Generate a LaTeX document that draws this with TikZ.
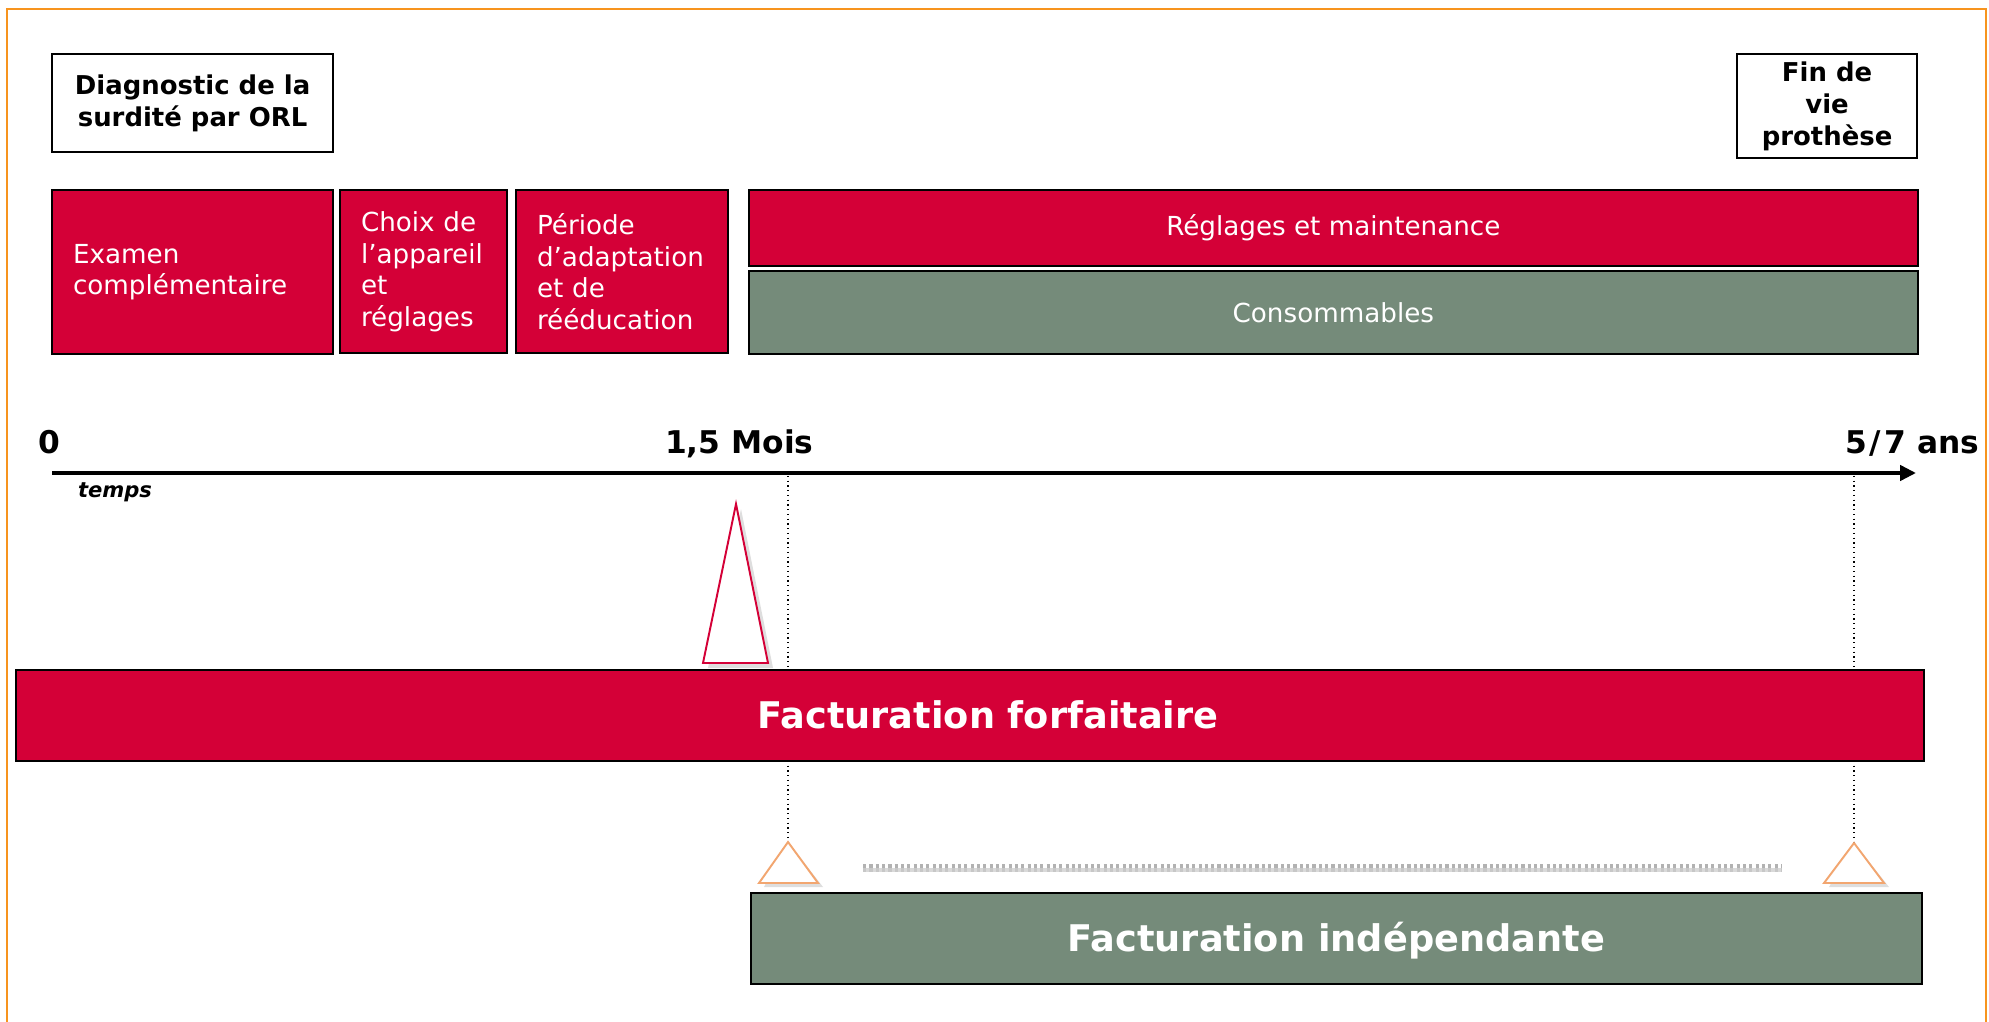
\documentclass[tikz,border=0pt]{standalone}
\usepackage{fontspec}
\setmainfont{DejaVu Sans}
\usetikzlibrary{arrows.meta}
\definecolor{rouge}{RGB}{212,0,55}
\definecolor{vert}{RGB}{117,139,122}
\definecolor{orangecadre}{RGB}{247,148,30}
\definecolor{orangetri}{RGB}{242,166,112}
\begin{document}
\begin{tikzpicture}[
    x=0.01cm, y=-0.01cm,
    every node/.style={inner sep=0pt, outer sep=0pt},
    phase/.style={rectangle, draw=black, line width=0.6pt, fill=rouge, text=white, anchor=north west, align=left, inner xsep=0.21cm, font=\fontsize{7.45pt}{8.96pt}\selectfont},
    bande/.style={rectangle, draw=black, line width=0.6pt, text=white, anchor=north west, font=\fontsize{7.45pt}{8.96pt}\selectfont},
    jalon/.style={rectangle, draw=black, line width=0.6pt, fill=white, anchor=north west, align=center, font=\bfseries\fontsize{7.37pt}{9.1pt}\selectfont},
    facture/.style={rectangle, draw=black, line width=0.6pt, text=white, anchor=north west, text height=7.6pt, text depth=0pt, font=\bfseries\fontsize{10.44pt}{12pt}\selectfont},
    repere/.style={anchor=base west, font=\bfseries\fontsize{8.9pt}{10pt}\selectfont},
    pointille/.style={densely dotted, line width=0.35pt},
    ombre/.style={fill=black!13, draw=none},
    ]
    \useasboundingbox (0,0) rectangle (1989,1022);
    % cadre orange
    \draw[orangecadre, line width=0.75pt] (7,1022) -- (7,9) -- (1986,9) -- (1986,1022);

    % jalons du haut
    \node[jalon, minimum width=2.81cm, minimum height=0.98cm] (diag) at (52,54) {Diagnostic de la\\surdité par ORL};
    \node[jalon, minimum width=1.80cm, minimum height=1.04cm] (fin) at (1737,54) {Fin de\\vie\\prothèse};

    % phases
    \node[phase, text width=2.39cm, minimum height=1.64cm] (examen) at (52,190) {Examen\\complémentaire};
    \node[phase, text width=1.25cm, minimum height=1.63cm] (choix) at (340,190) {Choix de\\l’appareil\\et\\réglages};
    \node[phase, text width=1.70cm, minimum height=1.63cm] (periode) at (516,190) {Période\\d’adaptation\\et de\\rééducation};
    \node[bande, fill=rouge, minimum width=11.68cm, minimum height=0.76cm] (reglages) at (749,190) {Réglages et maintenance};
    \node[bande, fill=vert, minimum width=11.68cm, minimum height=0.83cm] (conso) at (749,271) {Consommables};

    % axe du temps
    \coordinate (t0) at (52,473);
    \coordinate (tfin) at (1916,473);
    \draw[line width=1.14pt, -{Triangle[length=4.55pt, width=4.3pt]}] (t0) -- (tfin);
    \node[repere] (zero) at (38,454) {0};
    \node[repere] (mois) at (665,454) {1,5 Mois};
    \node[repere] (ans) at (1845,454) {5\kern0.9pt/\kern0.9pt7 ans};
    \node[anchor=base west, font=\bfseries\itshape\fontsize{6pt}{7pt}\selectfont] (temps) at (78,498) {temps};

    % pointilles
    \coordinate (m15) at (788,476);
    \coordinate (a15) at (788,842);
    \coordinate (m57) at (1854,476);
    \coordinate (a57) at (1854,843);
    \draw[pointille] (m15) -- (a15);
    \draw[pointille] (m57) -- (a57);

    % facturation forfaitaire
    \node[facture, fill=rouge, minimum width=19.07cm, minimum height=0.91cm] (forfait) at (16,670) {\hspace*{0.36cm}Facturation forfaitaire};

    % triangles
    \fill[ombre, shift={(5,5)}] (736,504) -- (768,663) -- (703,663) -- cycle;
    \draw[rouge, fill=white, line width=0.55pt] (736,504) -- (768,663) -- (703,663) -- cycle;
    \fill[ombre, shift={(5,4)}] (a15) -- (818,883) -- (759,883) -- cycle;
    \draw[orangetri, fill=white, line width=0.55pt] (a15) -- (818,883) -- (759,883) -- cycle;
    \fill[ombre, shift={(5,4)}] (a57) -- (1884,883) -- (1824,883) -- cycle;
    \draw[orangetri, fill=white, line width=0.55pt] (a57) -- (1884,883) -- (1824,883) -- cycle;

    % ligne grise
    \coordinate (g1) at (863,866);
    \coordinate (g2) at (1782,866);
    \coordinate (g3) at (863,870);
    \coordinate (g4) at (1782,870);
    \draw[black!30, line width=1.14pt, dash pattern=on 0.9pt off 0.9pt] (g1) -- (g2);
    \draw[black!15, line width=1.14pt, dash pattern=on 0.9pt off 0.9pt, dash phase=0.9pt] (g3) -- (g4);
    \draw[black!22, line width=1.14pt, dash pattern=on 0.9pt off 0.9pt] (g3) -- (g4);

    % facturation independante
    \node[facture, fill=vert, minimum width=11.70cm, minimum height=0.91cm] (indep) at (751,893) {Facturation indépendante};
\end{tikzpicture}
\end{document}
